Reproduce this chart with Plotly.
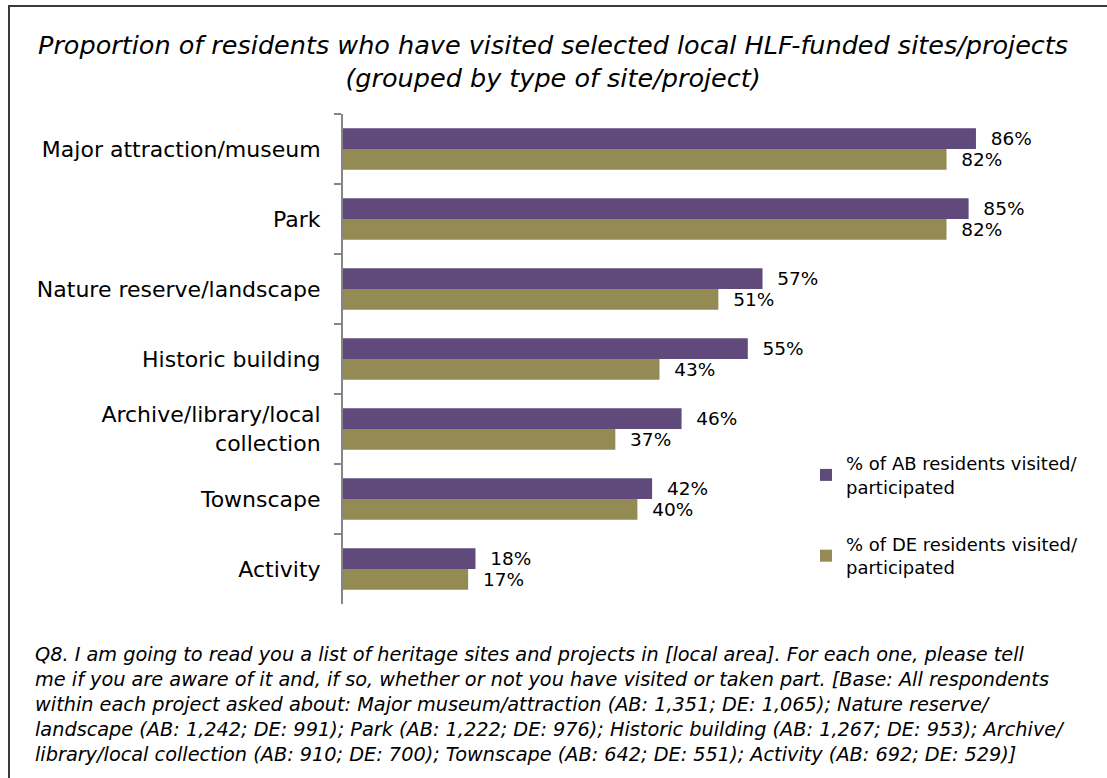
import plotly.graph_objects as go

# Site/project types, top to bottom
categories = [
    "Major attraction/museum",
    "Park",
    "Nature reserve/landscape",
    "Historic building",
    "Archive/library/local<br>collection",
    "Townscape",
    "Activity",
]
ab_visited = [86, 85, 57, 55, 46, 42, 18]
de_visited = [82, 82, 51, 43, 37, 40, 17]

series_names = [
    "% of AB residents visited/<br>participated",
    "% of DE residents visited/<br>participated",
]
colors = ["#604A7B", "#948A54"]

title_text = ("Proportion of residents who have visited selected local HLF-funded sites/projects"
              "<br>(grouped by type of site/project)")
footnote_text = (
    "Q8. I am going to read you a list of heritage sites and projects in [local area]. For each one, please tell<br>"
    "me if you are aware of it and, if so, whether or not you have visited or taken part. [Base: All respondents<br>"
    "within each project asked about: Major museum/attraction (AB: 1,351; DE: 1,065); Nature reserve/<br>"
    "landscape (AB: 1,242; DE: 991); Park (AB: 1,222; DE: 976); Historic building (AB: 1,267; DE: 953); Archive/<br>"
    "library/local collection (AB: 910; DE: 700); Townscape (AB: 642; DE: 551); Activity (AB: 692; DE: 529)]"
)

W, H = 1107, 778
L, R, T, B = 343, 28, 114, 174
pw, ph = W - L - R, H - T - B


def px_x(px):
    return (px - L) / pw


def px_y(py):
    return (H - B - py) / ph


font_main = "DejaVu Sans"

fig = go.Figure()
for name, vals, col, grp in zip(series_names, [ab_visited, de_visited], colors, ["ab", "de"]):
    fig.add_trace(go.Bar(
        y=categories,
        x=vals,
        orientation="h",
        name=name,
        legendgroup=grp,
        marker=dict(color=col, line=dict(width=0)),
        text=[f"{v}%" for v in vals],
        texttemplate="  %{text}",
        textposition="outside",
        constraintext="none",
        textfont=dict(size=18.5, color="#000000", family=font_main),
        cliponaxis=False,
    ))

fig.update_layout(
    width=W, height=H,
    margin=dict(l=L, r=R, t=T, b=B),
    paper_bgcolor="white",
    plot_bgcolor="white",
    barmode="group",
    bargap=0.41,
    bargroupgap=0,
    font=dict(family=font_main, color="#000000"),
    xaxis=dict(range=[0, 100], visible=False, showgrid=False, zeroline=False),
    yaxis=dict(
        autorange="reversed",
        showline=True, linecolor="#868686", linewidth=2,
        ticks="outside", tickson="boundaries", ticklen=7, tickwidth=2, tickcolor="#868686",
        ticklabelstandoff=16,
        tickfont=dict(size=22, family=font_main, color="#000000"),
        showgrid=False, zeroline=False,
    ),
    legend=dict(
        x=px_x(806), y=px_y(445), xanchor="left", yanchor="top",
        font=dict(size=18, family=font_main, color="#000000"),
        traceorder="grouped", tracegroupgap=31,
        bgcolor="rgba(0,0,0,0)",
    ),
    showlegend=True,
)

# Title
fig.add_annotation(
    text=title_text,
    xref="paper", yref="paper",
    x=px_x(553), y=px_y(61), xanchor="center", yanchor="middle",
    align="center", showarrow=False,
    font=dict(size=25.5, family=font_main, color="#000000", style="italic"),
)

# Footnote below the plot
fig.add_annotation(
    text=footnote_text,
    xref="paper", yref="paper",
    x=px_x(33), y=px_y(641), xanchor="left", yanchor="top",
    align="left", showarrow=False,
    font=dict(size=19.3, family=font_main, color="#000000", style="italic"),
)

# Chart frame
fig.add_shape(
    type="rect", xref="paper", yref="paper",
    x0=px_x(9), x1=px_x(W + 20), y0=px_y(H + 20), y1=px_y(6),
    line=dict(color="#3a3a3a", width=2), fillcolor="rgba(0,0,0,0)", layer="below",
)

fig.write_html("out.html")
